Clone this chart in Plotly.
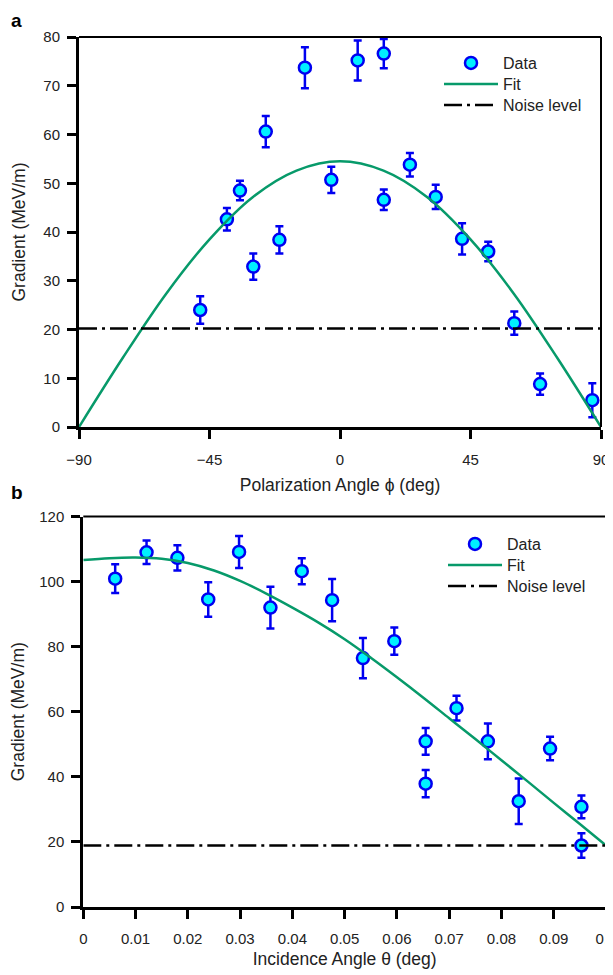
import plotly.graph_objects as go

# ---------------- Panel a data ----------------
phi = [-48.2, -39.0, -34.5, -29.9, -25.6, -20.9, -12.1, -3.0, 6.1, 15.1, 15.1, 24.1, 33.0, 42.1, 51.1, 60.1, 69.0, 87.0]
grad_a = [24.0, 42.6, 48.5, 32.9, 60.6, 38.4, 73.7, 50.7, 75.2, 76.6, 46.6, 53.8, 47.2, 38.6, 36.0, 21.3, 8.8, 5.5]
err_a = [2.8, 2.3, 2.0, 2.7, 3.2, 2.8, 4.2, 2.7, 4.1, 3.0, 2.1, 2.4, 2.5, 3.2, 2.0, 2.4, 2.2, 3.5]
fit_phi = [-90, -75, -60, -45, -30, -15, 0, 15, 30, 45, 60, 75, 90]
fit_a = [0.0, 14.1, 27.3, 38.5, 47.2, 52.6, 54.5, 52.6, 47.2, 38.5, 27.3, 14.1, 0.0]
noise_a = 20.2
xrange_a = [-90, 90]
xticks_a = [-90, -45, 0, 45, 90]

# ---------------- Panel b data ----------------
theta = [0.0061, 0.0121, 0.0180, 0.0239, 0.0298, 0.0358, 0.0418, 0.0476, 0.0535, 0.0595,
         0.0655, 0.0655, 0.0714, 0.0774, 0.0833, 0.0893, 0.0953, 0.0953]
grad_b = [100.9, 109.0, 107.3, 94.5, 109.1, 92.0, 103.2, 94.3, 76.5, 81.7,
          50.9, 37.9, 61.1, 50.9, 32.5, 48.7, 30.8, 18.9]
err_b = [4.4, 3.6, 3.9, 5.3, 4.9, 6.4, 4.0, 6.5, 6.2, 4.2,
         4.1, 4.2, 3.8, 5.5, 7.0, 3.6, 3.5, 3.8]
fit_theta = [0.0, 0.005, 0.01, 0.015, 0.02, 0.025, 0.03, 0.035, 0.04, 0.045, 0.05,
             0.055, 0.06, 0.065, 0.07, 0.075, 0.08, 0.085, 0.09, 0.095, 0.1]
fit_b = [106.6, 107.2, 107.4, 107.0, 105.7, 103.4, 100.2, 96.3, 92.0, 87.4, 82.3,
         76.6, 70.6, 64.4, 58.0, 51.6, 45.1, 38.6, 32.0, 25.5, 18.9]
noise_b = 18.9
xrange_b = [0, 0.1]
xticks_b = [0, 0.01, 0.02, 0.03, 0.04, 0.05, 0.06, 0.07, 0.08, 0.09, 0.1]
xticklabels_b = ["0", "0.01", "0.02", "0.03", "0.04", "0.05", "0.06", "0.07", "0.08", "0.09", "0.1"]

OFF = 8  # page body margin
W, H = 613 - OFF, 975 - OFF
FONT = "Liberation Sans, Arial, Helvetica, sans-serif"
GREEN = "#079A6A"
BLUE = "#0000F0"
CYAN = "#00F0FF"
DASH = "18px,5px,3px,5px"


def px_x(p):
    return (p - OFF) / W


def px_y(p):
    return 1 - (p - OFF) / H


fig = go.Figure()

# Panel a
fig.add_trace(go.Scatter(x=phi, y=grad_a, mode="markers", name="Data",
                         marker=dict(size=12, color=CYAN, line=dict(color=BLUE, width=2.5)),
                         error_y=dict(type="data", array=err_a, color=BLUE, thickness=2.5, width=4),
                         xaxis="x", yaxis="y", legend="legend", cliponaxis=False))
fig.add_trace(go.Scatter(x=fit_phi, y=fit_a, mode="lines", name="Fit", line_shape="spline",
                         line=dict(color=GREEN, width=2.5), xaxis="x", yaxis="y", legend="legend2"))
fig.add_trace(go.Scatter(x=xrange_a, y=[noise_a, noise_a], mode="lines", name="Noise level",
                         line=dict(color="black", width=2.5, dash=DASH), xaxis="x", yaxis="y",
                         legend="legend3"))

# Panel b
fig.add_trace(go.Scatter(x=theta, y=grad_b, mode="markers", name="Data",
                         marker=dict(size=12, color=CYAN, line=dict(color=BLUE, width=2.5)),
                         error_y=dict(type="data", array=err_b, color=BLUE, thickness=2.5, width=4),
                         xaxis="x2", yaxis="y2", legend="legend4", cliponaxis=False))
fig.add_trace(go.Scatter(x=fit_theta, y=fit_b, mode="lines", name="Fit", line_shape="spline",
                         line=dict(color=GREEN, width=2.5), xaxis="x2", yaxis="y2", legend="legend5"))
fig.add_trace(go.Scatter(x=xrange_b, y=[noise_b, noise_b], mode="lines", name="Noise level",
                         line=dict(color="black", width=2.5, dash=DASH), xaxis="x2", yaxis="y2",
                         legend="legend6"))

axis_common = dict(showgrid=False, zeroline=False, showline=True, linecolor="black", linewidth=3,
                   ticks="outside", ticklen=9, tickwidth=3, tickcolor="black",
                   ticklabeloverflow="allow",
                   tickfont=dict(family=FONT, size=15, color="#222"), automargin=False)
TITLE_FONT = dict(family=FONT, size=17.5, color="#222")


def leg(xp, yp):
    return dict(x=px_x(xp), y=px_y(yp), xanchor="left", yanchor="middle", bgcolor="rgba(0,0,0,0)",
                font=dict(family=FONT, size=16, color="#222"), itemwidth=54)


fig.update_layout(
    width=W, height=H,
    margin=dict(l=0, r=0, t=0, b=0),
    paper_bgcolor="white", plot_bgcolor="white",
    font=dict(family=FONT, color="#222"),
    xaxis=dict(domain=[px_x(79), px_x(601)], range=xrange_a, tickvals=xticks_a,
               anchor="y", ticklabelstandoff=8,
               title=dict(text="Polarization Angle ϕ (deg)", font=TITLE_FONT, standoff=12),
               **axis_common),
    yaxis=dict(domain=[px_y(427), px_y(37)], range=[0, 80], dtick=10, anchor="x",
               ticklabelstandoff=4,
               title=dict(text="Gradient (MeV/m)", font=TITLE_FONT, standoff=14), **axis_common),
    xaxis2=dict(domain=[px_x(83.3), px_x(606)], range=xrange_b, tickvals=xticks_b,
                ticktext=xticklabels_b, anchor="y2", ticklabelstandoff=7,
                title=dict(text="Incidence Angle θ (deg)", font=TITLE_FONT, standoff=7),
                **axis_common),
    yaxis2=dict(domain=[px_y(907), px_y(516.5)], range=[0, 120], dtick=20, anchor="x2",
                ticklabelstandoff=4,
                title=dict(text="Gradient (MeV/m)", font=TITLE_FONT, standoff=14), **axis_common),
    legend=leg(439, 63),
    legend2=leg(439, 84),
    legend3=leg(439, 105),
    legend4=leg(443, 544),
    legend5=leg(443, 565),
    legend6=leg(443, 586),
    showlegend=True,
)

# thinner top/right frame lines
for xr, yr in (("x domain", "y domain"), ("x2 domain", "y2 domain")):
    fig.add_shape(type="line", xref=xr, yref=yr, x0=0, x1=1, y0=1, y1=1, line=dict(color="black", width=2))
    fig.add_shape(type="line", xref=xr, yref=yr, x0=1, x1=1, y0=0, y1=1, line=dict(color="black", width=2))

# panel labels
fig.add_annotation(text="<b>a</b>", x=px_x(9), y=1.0, xref="paper", yref="paper",
                   xanchor="left", yanchor="top", showarrow=False, font=dict(family=FONT, size=19, color="black"))
fig.add_annotation(text="<b>b</b>", x=px_x(9), y=px_y(492), xref="paper", yref="paper",
                   xanchor="left", yanchor="middle", showarrow=False, font=dict(family=FONT, size=19, color="black"))

fig.write_html("out.html")
